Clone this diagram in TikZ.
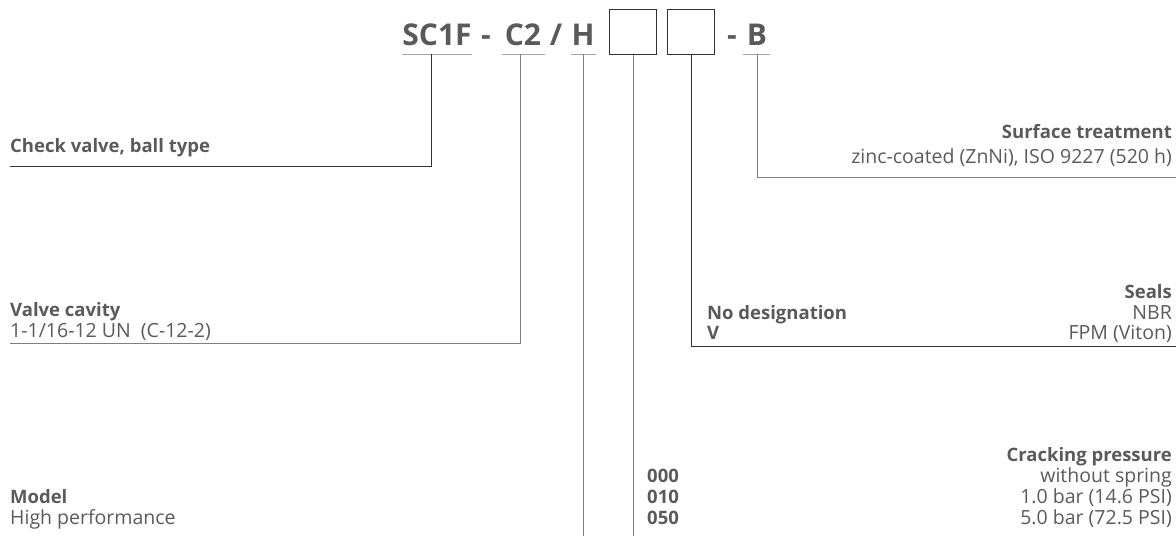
\documentclass[tikz,border=0pt]{standalone}
\usepackage{fontspec}
\setmainfont{Open Sans}
\usetikzlibrary{positioning}
\definecolor{txtgray}{HTML}{5A5A5A}
\definecolor{lndark}{HTML}{333333}
\definecolor{lngray}{HTML}{808080}
\tikzset{
  lbl/.style={inner sep=0pt, text=txtgray, font=\fontsize{19.5}{21}\selectfont},
  hdr/.style={lbl, font=\fontsize{18.5}{21}\selectfont\bfseries},
  code/.style={inner sep=0pt, text=txtgray, font=\fontsize{30}{34}\selectfont\bfseries},
  codebox/.style={draw=lndark, line width=1pt, minimum width=47pt, minimum height=45pt, inner sep=0pt},
  uline/.style={draw=lngray!70, line width=1pt},
  darkln/.style={draw=lndark, line width=1pt},
  grayln/.style={draw=lngray, line width=1pt}
}

\begin{document}
\begin{tikzpicture}[x=1pt, y=-1pt]
  \useasboundingbox (0,0) rectangle (1176,536);
  % type code
  \node[code, anchor=base] (sc) at (437,45) {SC1F};
  \node[code, anchor=base] (d1) at (486,45) {-};
  \node[code, anchor=base] (c2) at (523,45) {C2};
  \node[code, anchor=base] (sl) at (556,45) {/};
  \node[code, anchor=base] (hh) at (583,45) {H};
  \node[codebox, anchor=south west] (bx1) at (609,55) {};
  \node[codebox, anchor=south west] (bx2) at (667,55) {};
  \node[code, anchor=base] (d2) at (732,45) {-};
  \node[code, anchor=base] (bb) at (757,45) {B};
  % underlines
  \draw[uline] (402,54) -- (472,54);
  \draw[uline] (502,54) -- (545,54);
  \draw[uline] (571,54) -- (596,54);
  \draw[uline] (743,54) -- (770,54);
  \coordinate (scu) at (431,54);
  \coordinate (c2u) at (520,54);
  \coordinate (hhu) at (583,54);
  \coordinate (bbu) at (757,54);
  % left labels
  \node[hdr, anchor=base west] (chk) at (10,152) {Check valve, ball type};
  \coordinate (chkl) at (10,166);
  \node[hdr, anchor=base west] (cav) at (10,316) {Valve cavity};
  \node[lbl, anchor=base west] (cav2) at (10,337) {1-1/16-12 UN\ \ (C-12-2)};
  \coordinate (cavl) at (10,343);
  \node[hdr, anchor=base west] (mdl) at (10,503) {Model};
  \node[lbl, anchor=base west] (mdl2) at (10,524) {High performance};
  % right labels
  \node[hdr, anchor=base east] (srf) at (1172,138) {Surface treatment};
  \node[lbl, anchor=base east] (srf2) at (1172,163) {zinc-coated (ZnNi), ISO 9227 (520 h)};
  \coordinate (srfl) at (1176,177);
  \node[hdr, anchor=base east] (sea) at (1172,298) {Seals};
  \node[hdr, anchor=base west] (sea1) at (707,319) {No designation};
  \node[lbl, anchor=base east] (sea1r) at (1172,319) {NBR};
  \node[hdr, anchor=base west] (sea2) at (707,339) {V};
  \node[lbl, anchor=base east] (sea2r) at (1172,339) {FPM (Viton)};
  \coordinate (seal) at (1176,346);
  \node[hdr, anchor=base east] (crk) at (1172,461) {Cracking pressure};
  \node[hdr, anchor=base west] (crk1) at (647,482) {000};
  \node[lbl, anchor=base east] (crk1r) at (1172,482) {without spring};
  \node[hdr, anchor=base west] (crk2) at (647,503) {010};
  \node[lbl, anchor=base east] (crk2r) at (1172,503) {1.0 bar (14.6 PSI)};
  \node[hdr, anchor=base west] (crk3) at (647,524) {050};
  \node[lbl, anchor=base east] (crk3r) at (1172,524) {5.0 bar (72.5 PSI)};
  \coordinate (hend) at (583,536);
  \coordinate (bx1end) at (633,536);
  % connectors
  \draw[darkln] (scu) -- (scu |- chkl) -- (chkl);
  \draw[grayln] (c2u) -- (c2u |- cavl) -- (cavl);
  \draw[grayln] (hhu) -- (hend);
  \draw[grayln] (bx1.south) -- (bx1end);
  \draw[darkln] (bx2.south) -- (bx2.south |- seal) -- (seal);
  \draw[grayln] (bbu) -- (bbu |- srfl) -- (srfl);
\end{tikzpicture}
\end{document}
